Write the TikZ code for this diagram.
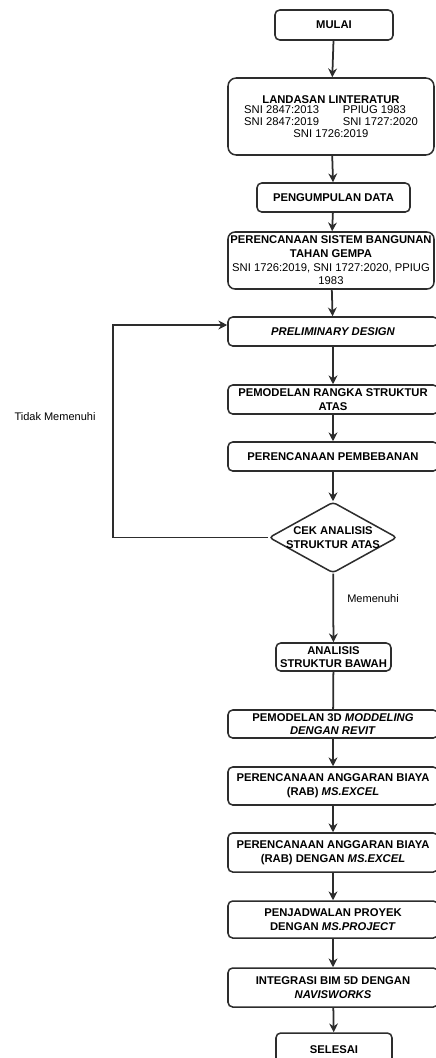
\documentclass[tikz,border=0pt]{standalone}
\usepackage{fontspec}
\setmainfont{Liberation Sans}
\usetikzlibrary{shapes,arrows.meta,positioning,calc}
\definecolor{edgegray}{RGB}{45,45,45}

\begin{document}
\begin{tikzpicture}[
    x=0.03cm, y=-0.03cm,
    block/.style={draw=edgegray, line width=1.3pt, rounded corners=4pt, align=center, inner sep=1pt, font=\fontsize{9.6}{11.6}\selectfont\bfseries},
    decision/.style={diamond, draw=edgegray, line width=1.3pt, rounded corners=3pt, align=center, inner sep=0pt, font=\fontsize{9.6}{11.6}\selectfont\bfseries},
    note/.style={font=\fontsize{9.4}{11}\selectfont, inner sep=0pt},
    line/.style={draw=edgegray, line width=1.5pt},
    arrow/.style={line, -{Stealth[length=7.5pt,width=7.5pt]}}
]
\useasboundingbox (0,0) rectangle (435,1058);

% Start
\node[block, minimum width=118*0.03cm, minimum height=30*0.03cm] (mulai) at (334,25) {MULAI};

% Literature
\node[block, rounded corners=7pt, minimum width=206*0.03cm, minimum height=77*0.03cm] (landasan) at (331,116.5)
  {LANDASAN LINTERATUR\\[-1pt]
   \mdseries\begin{tabular}{@{}l@{\hspace{2.1em}}l@{}}
   SNI 2847:2013 & PPIUG 1983\\[-1.5pt]
   SNI 2847:2019 & SNI 1727:2020
   \end{tabular}\\[-1pt]
   \mdseries SNI 1726:2019};

% Data
\node[block, minimum width=153*0.03cm, minimum height=29*0.03cm] (data) at (333.5,197.5) {PENGUMPULAN DATA};

% Earthquake resistant system
\node[block, rounded corners=6pt, minimum width=206*0.03cm, minimum height=57*0.03cm] (sistem) at (331,260.5)
  {PERENCANAAN SISTEM BANGUNAN\\TAHAN GEMPA\\
   \mdseries SNI 1726:2019, SNI 1727:2020, PPIUG\\ \mdseries 1983};

% Preliminary design
\node[block, minimum width=210*0.03cm, minimum height=29*0.03cm] (prelim) at (333,331.5) {\itshape PRELIMINARY DESIGN};

% Upper structure model
\node[block, minimum width=210*0.03cm, minimum height=29*0.03cm] (rangka) at (333,399.5) {PEMODELAN RANGKA STRUKTUR\\ATAS};

% Loads
\node[block, minimum width=210*0.03cm, minimum height=29*0.03cm] (beban) at (333,456.5) {PERENCANAAN PEMBEBANAN};

% Check
\node[decision, minimum width=128*0.03cm, minimum height=71*0.03cm] (cek) at (333,537.5) {};
\node[align=center, inner sep=0pt, font=\fontsize{9.6}{11.6}\selectfont\bfseries] (cektext) at (cek.center) {CEK ANALISIS\\STRUKTUR ATAS};

% Lower structure
\node[block, minimum width=115*0.03cm, minimum height=28*0.03cm] (bawah) at (333.5,657) {ANALISIS\\STRUKTUR BAWAH};

% 3D model
\node[block, minimum width=210*0.03cm, minimum height=28*0.03cm] (model3d) at (333,724) {PEMODELAN 3D \textit{MODDELING}\\\textit{DENGAN REVIT}};

% Cost estimate
\node[block, minimum width=210*0.03cm, minimum height=38*0.03cm] (rabsatu) at (333,786) {PERENCANAAN ANGGARAN BIAYA\\(RAB) \textit{MS.EXCEL}};

% Cost estimate, again
\node[block, minimum width=210*0.03cm, minimum height=39*0.03cm] (rabdua) at (333,852.5) {PERENCANAAN ANGGARAN BIAYA\\(RAB) DENGAN \textit{MS.EXCEL}};

% Schedule
\node[block, minimum width=210*0.03cm, minimum height=37*0.03cm] (jadwal) at (333,919.5) {PENJADWALAN PROYEK\\DENGAN \textit{MS.PROJECT}};

% BIM 5D
\node[block, minimum width=210*0.03cm, minimum height=39*0.03cm] (integrasi) at (333,987.5) {INTEGRASI BIM 5D DENGAN\\\textit{NAVISWORKS}};

% End
\node[block, minimum width=116*0.03cm, minimum height=34*0.03cm] (selesai) at (334,1050) {SELESAI};

% Labels
\node[note] (tidak) at (55,417) {Tidak Memenuhi};
\node[note] (memenuhi) at (373,599) {Memenuhi};

% Connections
\draw[arrow] (mulai) -- (landasan);
\draw[arrow] (landasan) -- (data);
\draw[arrow] (data) -- (sistem);
\draw[arrow] (sistem) -- (prelim);
\draw[arrow] (prelim) -- (rangka);
\draw[arrow] (rangka) -- (beban);
\draw[arrow] (beban) -- (cek);
\draw[arrow] (cek) -- (bawah);
\draw[line] (bawah) -- (model3d);
\draw[arrow] (model3d) -- (rabsatu);
\draw[arrow] (rabsatu) -- (rabdua);
\draw[arrow] (rabdua) -- (jadwal);
\draw[arrow] (jadwal) -- (integrasi);
\draw[arrow] (integrasi) -- (selesai);

% Loop back
\coordinate (loop) at (113,325);
\draw[arrow] (cek.west) -| (loop) -- (loop -| prelim.west);

\end{tikzpicture}
\end{document}
